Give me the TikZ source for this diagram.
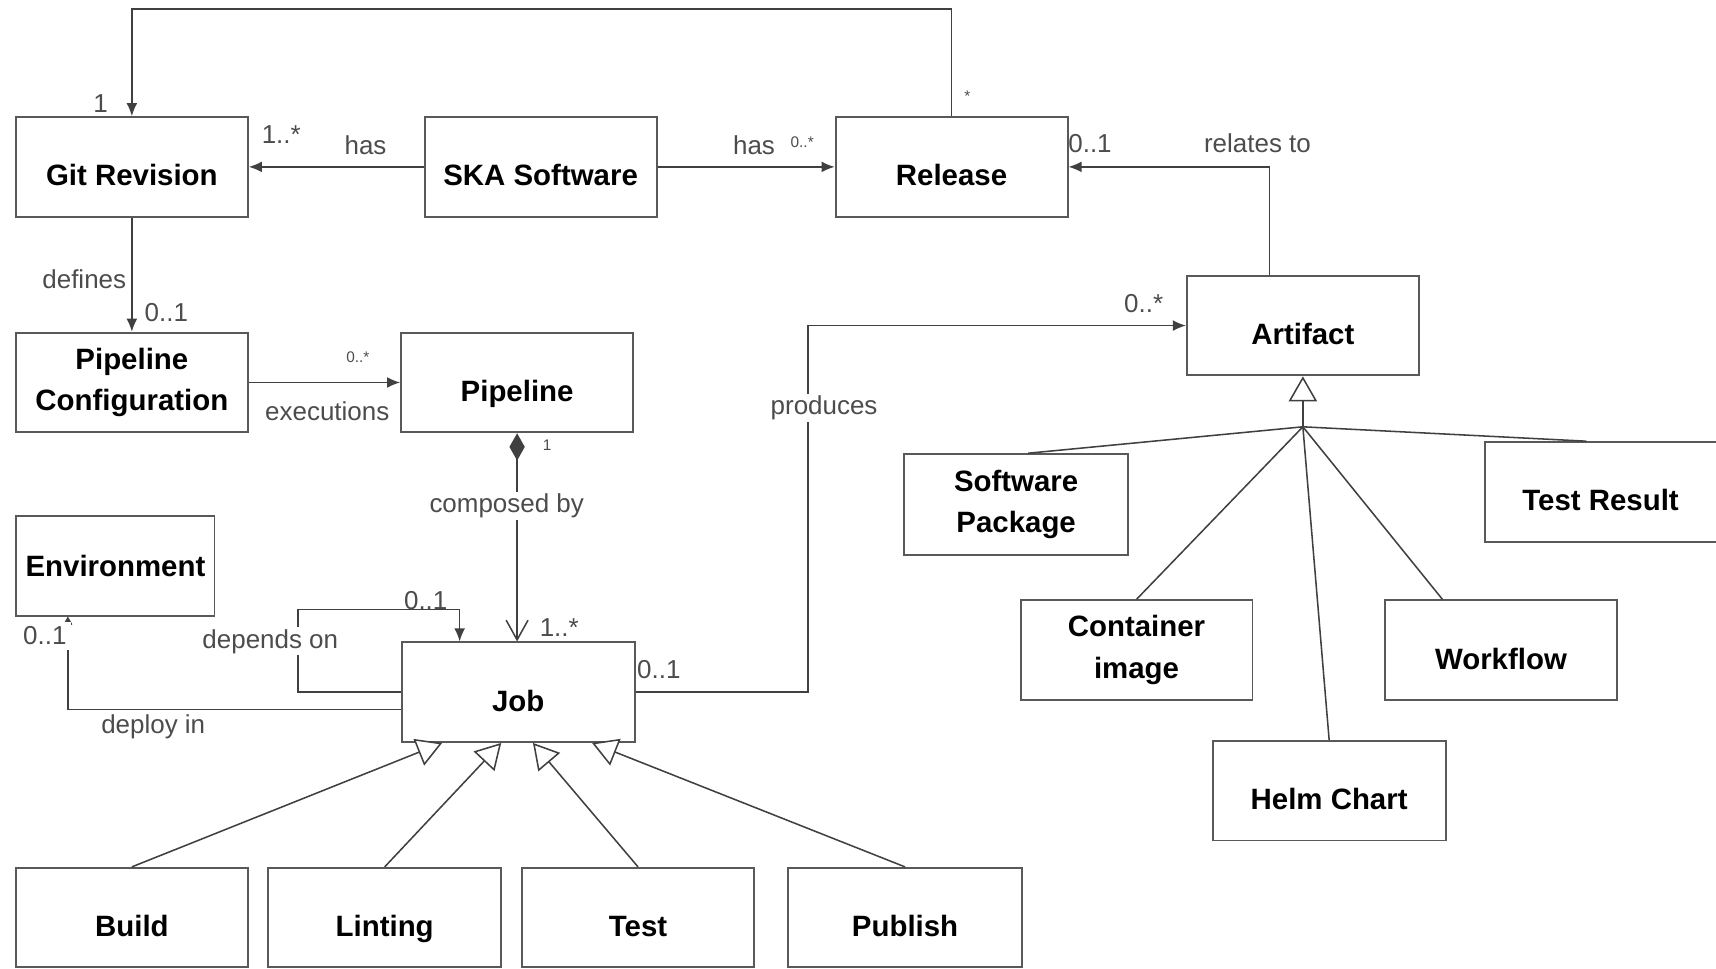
\documentclass[tikz,border=0pt]{standalone}
\usepackage{fontspec}
\setmainfont{Liberation Sans}
\usetikzlibrary{arrows.meta}

\begin{document}
\begin{tikzpicture}[x=0.02cm,y=-0.02cm,
	box/.style={draw=black!65,line width=1pt,minimum width=4.24cm,minimum height=1.82cm,inner sep=0pt,align=center,font=\bfseries\fontsize{15.3}{21.5}\selectfont},
	cls/.style={box,text height=19.8pt,text depth=0pt},
	lbl/.style={font=\fontsize{13.5}{16}\selectfont,text=black!70,inner sep=1pt},
	lblw/.style={lbl,fill=white},
	tiny/.style={font=\fontsize{8}{9}\selectfont,text=black!70,inner sep=1pt},
	link/.style={draw=black!75,line width=0.8pt},
	assoc/.style={link,-{Latex[length=0.24cm,width=0.2cm]}},
	gen/.style={link,-{Triangle[open,fill=white,length=0.46cm,width=0.52cm]}},
	comp/.style={link,{Diamond[length=0.5cm,width=0.28cm]}-{Straight Barb[length=0.36cm,width=0.4cm]}}]
	\useasboundingbox (0,0) rectangle (1568,885);
	\node[cls] (git) at (120.5,152.5) {Git Revision};
	\node[cls] (ska) at (494,152.5) {SKA Software};
	\node[cls] (rel) at (869.5,152.5) {Release};
	\node[box] (pconf) at (120.5,349.5) {Pipeline\\Configuration};
	\node[cls] (pipe) at (472.5,349.5) {Pipeline};
	\node[cls] (art) at (1190.5,297.5) {Artifact};
	\node[box,minimum width=3.62cm] (env) at (105.5,517) {Environment};
	\node[cls,minimum width=4.26cm] (job) at (473.5,632.5) {Job};
	\node[box,minimum width=4.1cm,minimum height=1.84cm] (swpkg) at (928.5,461) {Software\\Package};
	\node[cls] (tres) at (1462.5,449.5) {Test Result};
	\node[box] (cont) at (1038.5,594) {Container\\image};
	\node[cls] (wf) at (1371.5,594) {Workflow};
	\node[cls,minimum width=4.26cm] (helm) at (1214.5,722.5) {Helm Chart};
	\node[cls] (build) at (120.5,838.5) {Build};
	\node[cls,minimum width=4.26cm] (lint) at (351.5,838.5) {Linting};
	\node[cls] (test) at (583,838.5) {Test};
	\node[cls,minimum width=4.28cm] (pub) at (827,838.5) {Publish};
	\coordinate (hub) at (1190.5,390);

	\draw[assoc] (rel.north) -- ++(0,-98) -| (git.north);
	\draw[assoc] (ska.west) -- (git.east);
	\draw[assoc] (ska.east) -- (rel.west);
	\draw[assoc] ([xshift=-0.61cm]art.north) |- (rel.east);
	\draw[assoc] (git.south) -- (pconf.north);
	\draw[assoc] (pconf.east) -- (pipe.west);
	\draw[comp] (pipe.south) -- (pipe.south |- job.north);
	\draw[assoc] (job.west) -- ++(-94,0) -- ++(0,-75.5) -| ([xshift=-1.07cm]job.north);
	\draw[link,-{Straight Barb[length=0.12cm,width=0.14cm]}] ([yshift=-0.32cm]job.west) -| ([xshift=-0.87cm]env.south);
	\draw[assoc] (job.east) -- ++(157.5,0) |- (art.west);
	\draw[gen] (build.north) -- ([xshift=-1.39cm]job.south);
	\draw[gen] (lint.north) -- ([xshift=-0.31cm]job.south);
	\draw[gen] (test.north) -- ([xshift=0.27cm]job.south);
	\draw[gen] (pub.north) -- ([xshift=1.35cm]job.south);
	\draw[gen] (hub) -- (art.south);
	\draw[link] (hub) -- ([xshift=0.22cm]swpkg.north);
	\draw[link] (hub) -- ([xshift=-0.26cm]tres.north);
	\draw[link] (hub) -- (cont.north);
	\draw[link] (hub) -- ([xshift=-1.07cm]wf.north);
	\draw[link] (hub) -- (helm.north);

	\node[lbl] (mGitTop) at (92,95) {1};
	\node[tiny] (mRelTop) at (884,88) {*};
	\node[lbl] (mGitHas) at (257,123) {1..*};
	\node[lbl] (hasGit) at (334,133) {has};
	\node[lbl] (hasRel) at (689,133) {has};
	\node[tiny] (mRelHas) at (733,130) {0..*};
	\node[lbl] (mRelArt) at (996,131) {0..1};
	\node[lbl] (relTo) at (1149,131) {relates to};
	\node[lbl] (defs) at (77,255) {defines};
	\node[lbl] (mConf) at (152,286) {0..1};
	\node[tiny] (mExec) at (327,326) {0..*};
	\node[lbl] (execs) at (299,376) {executions};
	\node[tiny] (mPipe) at (500,407) {1};
	\node[lblw] (compBy) at (463,462) {composed by};
	\node[lbl] (mJobComp) at (511,573) {1..*};
	\node[lbl] (mDep) at (389,549) {0..1};
	\node[lblw] (depOn) at (247,586) {depends on};
	\node[lblw,inner sep=2.5pt] (mEnv) at (41,581) {0..1};
	\node[lbl] (depIn) at (140,664) {deploy in};
	\node[lbl] (mJobArt) at (602,612) {0..1};
	\node[lblw] (prods) at (753,373) {produces};
	\node[lbl] (mArt) at (1045,277) {0..*};
\end{tikzpicture}
\end{document}
